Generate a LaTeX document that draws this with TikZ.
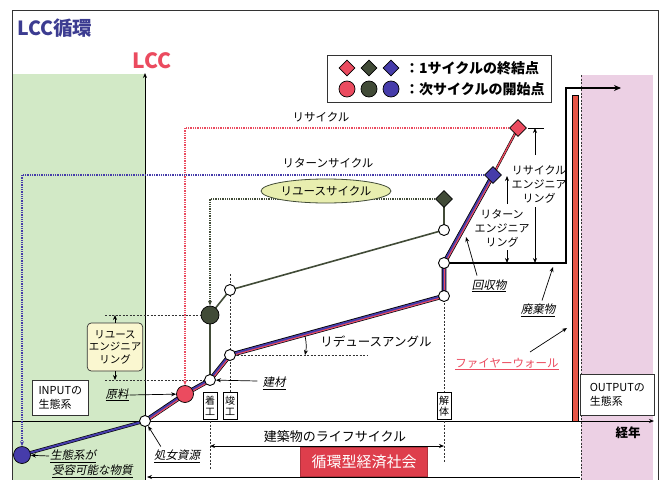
\documentclass[tikz,border=0pt]{standalone}
\usepackage{fontspec}
\newfontfamily\jp{Noto Sans CJK JP}
\newfontfamily\jpi{Noto Sans CJK JP}[FakeSlant=0.2]
\usetikzlibrary{arrows.meta,shapes.geometric,calc}
\definecolor{cblue}{RGB}{70,60,170}
\definecolor{cred}{RGB}{235,75,95}
\definecolor{cdark}{RGB}{65,75,55}
\definecolor{cgreenbg}{RGB}{210,233,198}
\definecolor{cpinkbg}{RGB}{236,208,228}
\definecolor{ctitle}{RGB}{60,60,145}
\definecolor{cfire}{RGB}{230,85,70}
\definecolor{cbox}{RGB}{222,62,76}
\definecolor{cell}{RGB}{232,238,175}
\definecolor{creuse}{RGB}{250,247,208}
\tikzset{
  lbl/.style={font=\jp\fontsize{11.5}{13}\selectfont, inner sep=1pt},
  ulbl/.style={font=\jpi\fontsize{11.5}{13}\selectfont, inner sep=1pt},
  wcirc/.style={circle, draw=black, fill=white, line width=0.9pt, inner sep=0pt, minimum size=11pt},
  mcirc/.style={circle, draw=black, line width=0.7pt, inner sep=0pt, minimum size=15pt},
  mdia/.style={diamond, draw=black, line width=0.7pt, inner sep=0pt, minimum size=15pt},
  thindash/.style={draw=black!80, line width=0.6pt, dash pattern=on 2pt off 1.5pt},
  dotline/.style={line width=1.7pt, dash pattern=on 1.3pt off 1pt},
  arr/.style={-{Stealth[length=5pt,width=4pt]}, line width=0.7pt},
  vbox/.style={draw=black, fill=white, line width=0.6pt, inner sep=1.2pt, font=\jp\fontsize{10}{11}\selectfont, align=center},
}
\begin{document}
\begin{tikzpicture}[x=1pt,y=-1pt]
\useasboundingbox (0,0) rectangle (666,479);
% backgrounds
\fill[white] (0,0) rectangle (666,479);
\fill[cgreenbg] (12,74) rectangle (145,490);
\fill[cpinkbg] (581,75) rectangle (653,490);
\draw[line width=0.9pt, black!80] (12,10) rectangle (658,495);
\draw[thindash] (581,75) -- (581,490);
% titles
\node[anchor=west, font=\jp\bfseries\fontsize{19.5}{22}\selectfont, text=ctitle, inner sep=0pt] (title) at (17,28) {LCC循環};
\node[font=\jp\bfseries\fontsize{21}{24}\selectfont, text=cred, inner sep=0pt] (lcc) at (152,61) {LCC};
% axes
\coordinate (ya0) at (145,490);
\coordinate (ya1) at (145,73);
\draw[arr, line width=0.9pt] (ya0) -- (ya1);
\coordinate (xa0) at (12,421);
\coordinate (xa1) at (654,421);
\draw[arr, line width=0.9pt] (xa0) -- (xa1);
\node[font=\jp\bfseries\fontsize{12.5}{14}\selectfont, inner sep=0pt] (keinen) at (628,433) {経年};
% firewall bar
\draw[fill=cfire, line width=0.6pt] (572,95) rectangle (578,421);
% legend
\draw[line width=0.7pt, black!80] (327,55) rectangle (551,102);
\node[mdia, fill=cred, minimum size=16pt] (l1) at (347,68) {};
\node[mdia, fill=cdark, minimum size=16pt] (l2) at (369,68) {};
\node[mdia, fill=cblue, minimum size=16pt] (l3) at (391,68) {};
\node[mcirc, fill=cred, minimum size=16pt] (l4) at (347,89) {};
\node[mcirc, fill=cdark, minimum size=16pt] (l5) at (369,89) {};
\node[mcirc, fill=cblue, minimum size=16pt] (l6) at (391,89) {};
\node[anchor=west, font=\jp\bfseries\fontsize{14}{16}\selectfont, inner sep=0pt] (lt1) at (405,68) {：1サイクルの終結点};
\node[anchor=west, font=\jp\bfseries\fontsize{14}{16}\selectfont, inner sep=0pt] (lt2) at (405,89) {：次サイクルの開始点};
% key points
\coordinate (pB) at (22,455);
\coordinate (pV) at (145,421);
\coordinate (pR) at (185,394);
\coordinate (pS1) at (210,380);
\coordinate (pS2) at (230,355);
\coordinate (pD1) at (444,296);
\coordinate (pD2) at (444,263);
\coordinate (pBD) at (493,175);
\coordinate (pRD) at (518,128);
\coordinate (pG) at (210,315);
\coordinate (pW1) at (230,290);
\coordinate (pW2) at (444,230);
\coordinate (pGD) at (444,199);
% thin dashed guides
\coordinate (g1) at (105,315);
\coordinate (g2) at (105,380);
\coordinate (g3) at (368,355);
\coordinate (g4) at (230,274);
\coordinate (g5) at (230,393);
\coordinate (g6) at (444,392);
\coordinate (g7) at (444,421);
\coordinate (g8) at (444,462);
\coordinate (g9) at (210,421);
\coordinate (g10) at (210,470);
\draw[thindash] (g1) -- (pG);
\draw[thindash] (g2) -- (pS1);
\draw[thindash] (pS2) -- (g3);
\draw[thindash] (g4) -- (g5);
\draw[thindash] (pD1) -- (g6);
\draw[thindash] (g7) -- (g8);
\draw[thindash] (g9) -- (g10);
% waste path
\coordinate (wa) at (566,263);
\coordinate (wb) at (566,88);
\coordinate (wc) at (621,88);
\draw[line width=1.8pt, -{Stealth[length=7pt,width=6pt]}] (pD2) -- (wa) -- (wb) -- (wc);
% reuse path
\draw[cdark, line width=1.6pt] (pS1) -- (pG) -- (pW1) -- (pW2) -- (pGD);
% main line
\draw[black, line width=3.2pt] (pB) -- (pV);
\draw[cblue, line width=2pt] (pB) -- (pV);
\draw[black, line width=4.6pt, line join=round] (pV) -- (pR) -- (pS1) -- (pS2) -- (pD1) -- (pD2) -- (pBD);
\draw[cblue, line width=3pt, line join=round] (pV) -- (pR) -- (pS1) -- (pS2) -- (pD1) -- (pD2) -- (pBD);
\draw[cred, line width=1.1pt, line join=round, transform canvas={xshift=0.6pt,yshift=-0.9pt}] (pV) -- (pR) -- (pS1) -- (pS2) -- (pD1) -- (pD2) -- (pBD);
\draw[black, line width=2.4pt] (pBD) -- (pRD);
\draw[cred, line width=1.4pt] (pBD) -- (pRD);
% markers
\node[wcirc] (V) at (pV) {};
\node[wcirc] (S1) at (pS1) {};
\node[wcirc] (S2) at (pS2) {};
\node[wcirc] (D1) at (pD1) {};
\node[wcirc] (D2) at (pD2) {};
\node[wcirc] (W1) at (pW1) {};
\node[wcirc] (W2) at (pW2) {};
\node[mcirc, fill=cblue, minimum size=17pt] (B) at (pB) {};
\node[mcirc, fill=cred, minimum size=17pt] (R) at (pR) {};
\node[mcirc, fill=cdark, minimum size=18pt] (G) at (pG) {};
\node[mdia, fill=cred, minimum size=17pt] (RD) at (pRD) {};
\node[mdia, fill=cblue, minimum size=17pt] (BD) at (pBD) {};
\node[mdia, fill=cdark, minimum size=17pt] (GD) at (pGD) {};
% cycle dotted lines
\draw[cred, dotline, -{Stealth[length=5pt,width=4pt]}] (RD) -| (R);
\draw[cblue, dotline, -{Stealth[length=5pt,width=4pt]}] (BD) -| (B);
\draw[cdark, dotline, -{Stealth[length=5pt,width=4pt]}] (GD) -| (G);
\node[lbl] (recl) at (321,117) {リサイクル};
\node[lbl] (retl) at (328,163) {リターンサイクル};
\node[ellipse, draw=cdark, fill=cell, line width=0.8pt, inner sep=0.5pt, minimum width=116pt, minimum height=24pt, font=\jp\fontsize{11.5}{13}\selectfont] (reusel) at (326,191) {リユースサイクル};
% reuse engineering box
\node[draw=black!80, fill=creuse, rounded corners=4pt, line width=0.7pt, align=center, inner sep=1.5pt, minimum width=54pt, minimum height=48pt, font=\jp\fontsize{10.5}{12.5}\selectfont] (reng) at (115,347) {リユース\\エンジニア\\リング};
\coordinate (r1) at (115,315);
\coordinate (r2) at (115,380);
\draw[arr] (reng.north) -- (r1);
\draw[arr] (reng.south) -- (r2);
% recycle / return engineering
\coordinate (t1) at (528,128);
\coordinate (t2) at (544,128);
\draw[line width=0.7pt] (t1) -- (t2);
\node[lbl, align=center, font=\jp\fontsize{11}{14}\selectfont] (receng) at (539,184) {リサイクル\\エンジニア\\リング};
\node[lbl, align=center, font=\jp\fontsize{11}{14}\selectfont] (reteng) at (502,228) {リターン\\エンジニア\\リング};
\coordinate (e1) at (535,128);
\coordinate (e2) at (535,155);
\coordinate (e3) at (535,207);
\coordinate (e4) at (535,263);
\draw[arr] (e2) -- (e1);
\draw[arr] (e3) -- (e4);
\coordinate (f1) at (507,176);
\coordinate (f2) at (507,204);
\coordinate (f3) at (507,250);
\coordinate (f4) at (507,263);
\draw[arr] (f2) -- (f1);
\draw[arr] (f3) -- (f4);
% reduce angle
\coordinate (ra1) at (305,336);
\coordinate (ra2) at (305,355);
\draw[arr] (ra1) to[bend left=12] (ra2);
\node[lbl, font=\jp\fontsize{12.5}{14}\selectfont] (redl) at (376,342) {リデュースアングル};
% labels with arrows
\node[ulbl] (kaishu) at (489,286) {\underline{回収物}};
\coordinate (k1) at (466,237);
\draw[arr] (kaishu.north) ++(-12,-3) -- (k1);
\node[ulbl] (haiki) at (538,310) {\underline{廃棄物}};
\coordinate (h1) at (553,267);
\draw[arr] (haiki.north) ++(4,-2) -- (h1);
\node[lbl, text=cred] (fire) at (507,364) {\underline{ファイヤーウォール}};
\coordinate (fi1) at (530,352);
\coordinate (fi2) at (567,328);
\draw[arr] (fi1) -- (fi2);
\node[ulbl] (kenzai) at (274,383) {\underline{建材}};
\draw[arr] (kenzai.west) ++(-4,-2) -- (S1);
\node[ulbl] (genryo) at (117,395) {\underline{原料}};
\draw[arr] (genryo.east) -- (R);
\node[ulbl] (shojo) at (177,456) {\underline{処女資源}};
\draw[arr] (shojo.north west) ++(8,-2) -- (V);
\node[ulbl, anchor=west] (seitai) at (49,456) {\underline{生態系が}};
\draw[arr] (seitai.west) -- (B);
\node[ulbl, anchor=west] (juyo) at (51,471) {\underline{受容可能な物質}};
% stage boxes
\node[vbox, minimum width=14pt, minimum height=27pt, anchor=south] (chakko) at (210,420) {着\\工};
\node[vbox, minimum width=14pt, minimum height=27pt, anchor=south] (shunko) at (230,420) {竣\\工};
\node[vbox, minimum width=14pt, minimum height=27pt, anchor=south] (kaitai) at (444,420) {解\\体};
% ecosystem boxes
\node[draw=black!80, fill=white, line width=0.7pt, align=left, inner sep=2pt, minimum width=56pt, minimum height=35pt, font=\jp\fontsize{11}{14}\selectfont, anchor=north west] (inbox) at (32,380) {INPUTの\\生態系};
\node[draw=black!80, fill=white, line width=0.7pt, align=left, inner sep=2pt, minimum width=74pt, minimum height=41pt, font=\jp\fontsize{11}{14}\selectfont, anchor=north west] (outbox) at (580,374) {OUTPUTの\\生態系};
% life cycle dimension
\coordinate (lc1) at (210,446);
\coordinate (lc2) at (444,446);
\draw[{Stealth[length=5pt,width=4pt]}-{Stealth[length=5pt,width=4pt]}, line width=0.7pt] (lc1) -- (lc2);
\node[font=\jp\fontsize{13}{15}\selectfont, inner sep=0pt] (lcl) at (335,437) {建築物のライフサイクル};
% bottom line
\coordinate (bl1) at (147,477);
\coordinate (bl2) at (580,477);
\draw[line width=0.8pt, {Stealth[length=5pt,width=4pt]}-] (bl1) -- (bl2);
\node[fill=cbox, draw=cbox!80!black, minimum width=127pt, minimum height=29pt, inner sep=0pt, text=white, font=\jp\fontsize{15}{17}\selectfont] (junkan) at (364,462) {循環型経済社会};
\end{tikzpicture}
\end{document}
